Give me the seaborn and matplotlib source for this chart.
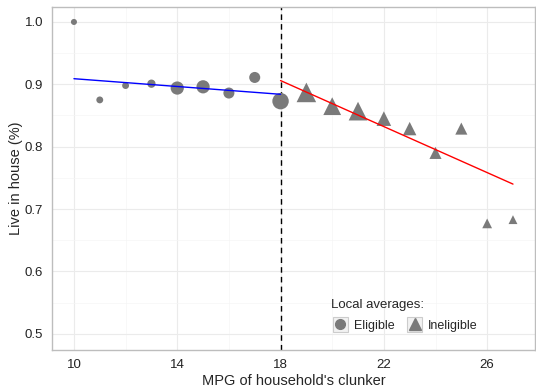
import matplotlib
matplotlib.use('Agg')
import matplotlib.pyplot as plt
import seaborn as sns
import pandas as pd
import numpy as np
from matplotlib.lines import Line2D
from matplotlib.patches import Rectangle
from matplotlib.legend_handler import HandlerBase

# local averages by MPG
elig_mpg = [10, 11, 12, 13, 14, 15, 16, 17, 18]
elig_share = [1.000, 0.875, 0.898, 0.901, 0.894, 0.896, 0.886, 0.911, 0.873]
elig_n = [4, 5, 5, 7, 17, 17, 12, 12, 26]

inelig_mpg = [19, 20, 21, 22, 23, 24, 25, 26, 27]
inelig_share = [0.887, 0.865, 0.857, 0.845, 0.829, 0.790, 0.829, 0.677, 0.683]
inelig_n = [23, 19, 21, 13, 11, 9, 9, 6, 5]

# linear fits on each side of the cutoff
elig_fit_x = [10, 18]
elig_fit_y = [0.909, 0.884]
inelig_fit_x = [18, 27]
inelig_fit_y = [0.906, 0.740]

cutoff = 18

elig = pd.DataFrame({'mpg': elig_mpg, 'share': elig_share, 'n': elig_n})
inelig = pd.DataFrame({'mpg': inelig_mpg, 'share': inelig_share, 'n': inelig_n})


class BoxedKey(HandlerBase):
    """ggplot-like legend key: grey square with the marker in the middle."""
    def create_artists(self, legend, orig, xd, yd, width, height, fontsize, trans):
        side = height
        x0 = -xd + (width - side) / 2
        y0 = -yd
        box = Rectangle((x0, y0), side, side, facecolor='#f2f2f2', edgecolor='#cccccc',
                        lw=0.8, transform=trans)
        mark = Line2D([x0 + side / 2], [y0 + side / 2], marker=orig.get_marker(),
                      markersize=orig.get_markersize(), color=orig.get_color(),
                      ls='none', transform=trans)
        return [box, mark]


sns.set_style('white')
plt.rcParams['font.family'] = ['Liberation Sans', 'DejaVu Sans']

fig = plt.figure(figsize=(5.36, 3.88), dpi=100)
ax = fig.add_axes([0.097, 0.098, 0.901, 0.884])

grey = '#7a7a7a'
norm = (4, 26)
# ggplot draws its filled triangle a bit bigger than its circle
sns.scatterplot(data=elig, x='mpg', y='share', size='n', size_norm=norm, sizes=(19, 140),
                marker='o', color=grey, edgecolor='none', legend=False, ax=ax, zorder=3)
sns.scatterplot(data=inelig, x='mpg', y='share', size='n', size_norm=norm, sizes=(32, 225),
                marker='^', color=grey, edgecolor='none', legend=False, ax=ax, zorder=3)

ax.plot(elig_fit_x, elig_fit_y, color='blue', lw=1, zorder=4)
ax.plot(inelig_fit_x, inelig_fit_y, color='red', lw=1, zorder=4)
ax.axvline(cutoff, color='black', ls=(0, (4, 3)), lw=1, zorder=2)

ax.set_xlim(9.15, 27.85)
ax.set_ylim(0.474, 1.024)
ax.set_xticks([10, 14, 18, 22, 26])
ax.set_xticks([12, 16, 20, 24], minor=True)
ax.set_yticks([0.5, 0.6, 0.7, 0.8, 0.9, 1.0])
ax.set_yticks([0.55, 0.65, 0.75, 0.85, 0.95], minor=True)
ax.grid(True, which='major', color='#ebebeb', lw=0.8)
ax.grid(True, which='minor', color='#f5f5f5', lw=0.5)
ax.set_axisbelow(True)
for s in ax.spines.values():
    s.set_color('#bdbdbd')
    s.set_linewidth(1)
ax.tick_params(which='major', length=3, color='#555555', labelsize=9.5, labelcolor='#222222', direction='out')
ax.tick_params(which='minor', length=0)
ax.set_xlabel("MPG of household's clunker", fontsize=10.5, labelpad=2)
ax.set_ylabel('Live in house (%)', fontsize=10.5, labelpad=1)

handles = [Line2D([], [], marker='o', ls='none', color=grey, markersize=7),
           Line2D([], [], marker='^', ls='none', color=grey, markersize=9)]
leg = ax.legend(handles, ['Eligible', 'Ineligible'], title='Local averages:', ncol=2,
                loc='upper left', bbox_to_anchor=(0.565, 0.168), frameon=False, borderpad=0,
                fontsize=9, title_fontsize=9.5, handletextpad=0.3, columnspacing=0.9,
                handlelength=1.5, handleheight=1.5,
                handler_map={Line2D: BoxedKey()})
leg._legend_box.align = 'left'

fig.savefig('out.png', dpi=100)
